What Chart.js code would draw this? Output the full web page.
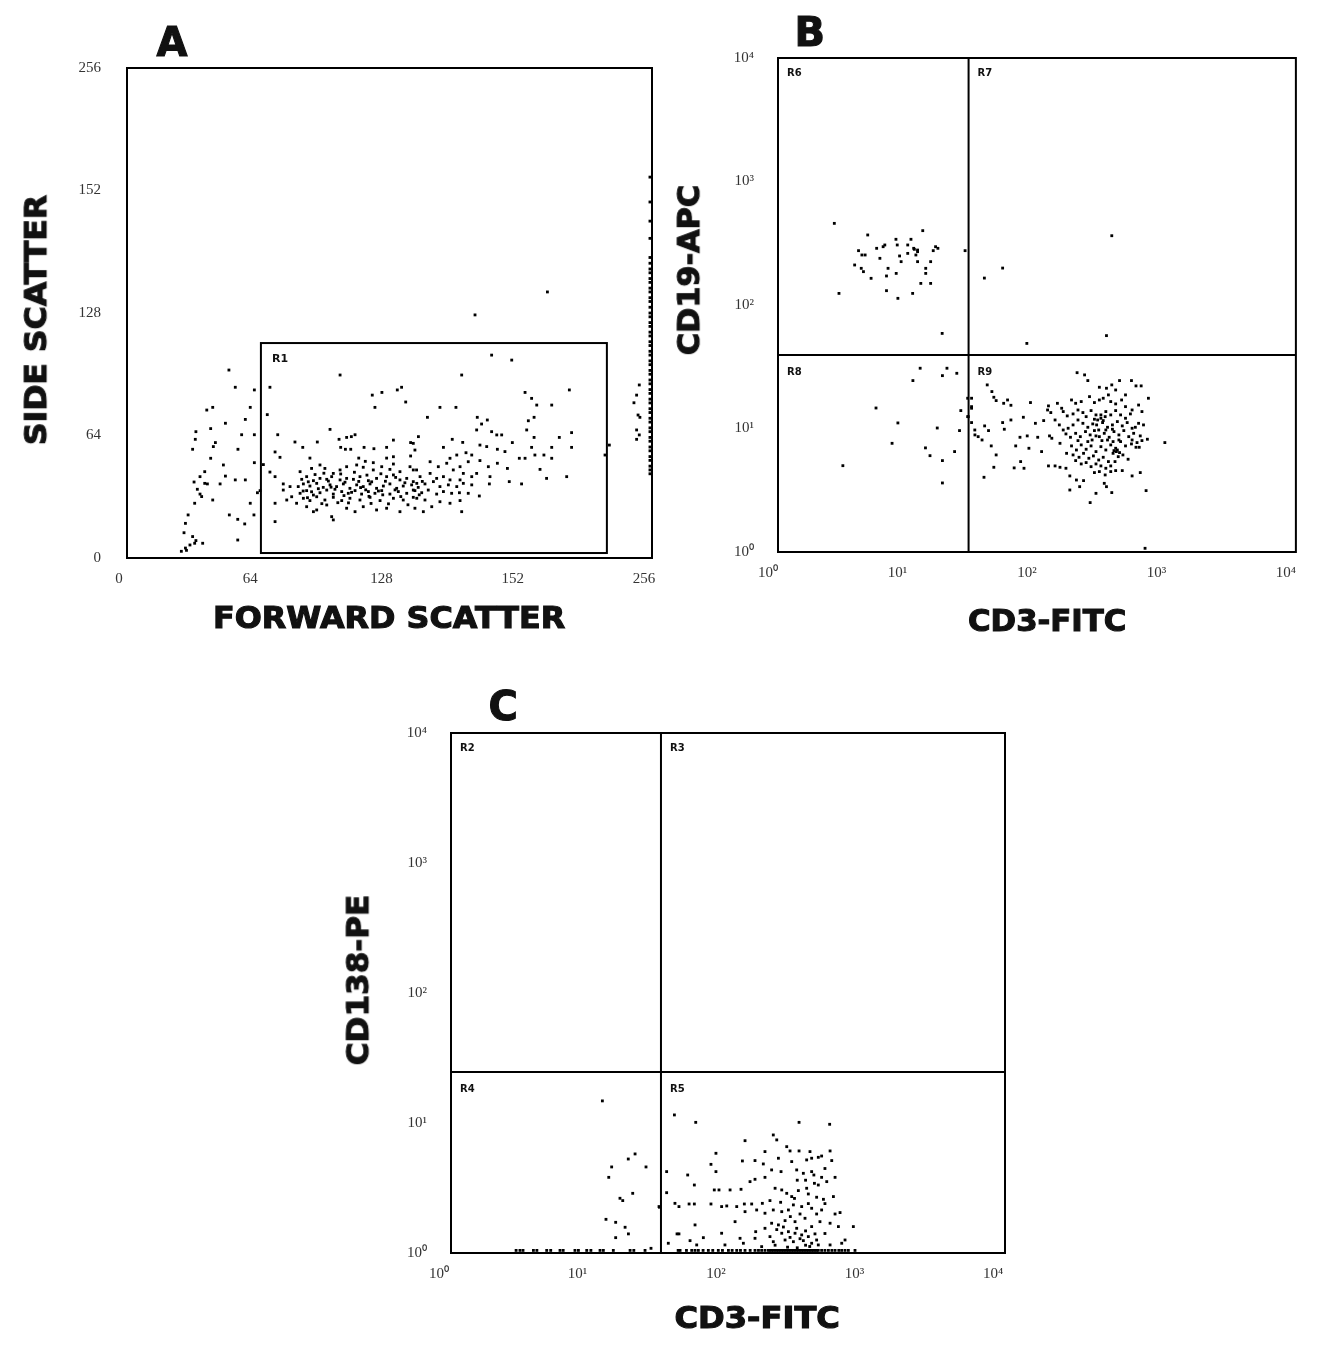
<!DOCTYPE html>
<html><head><meta charset="utf-8">
<script src="https://cdn.jsdelivr.net/npm/chart.js@4.4.1/dist/chart.umd.min.js"></script>
<style>
html,body{margin:0;padding:0;background:#fff;width:1318px;height:1351px;overflow:hidden;position:relative;}
canvas{position:absolute;}
.t{position:absolute;font-family:'DejaVu Sans',sans-serif;font-weight:bold;white-space:nowrap;color:#111;line-height:1;transform-origin:50% 50%;-webkit-text-stroke:1.1px #111;}
</style></head><body>
<canvas id="cA" width="700" height="650" style="left:0;top:0"></canvas>
<canvas id="cB" width="618" height="650" style="left:700px;top:0"></canvas>
<canvas id="cC" width="700" height="680" style="left:330px;top:670px"></canvas>
<script>
// ---------- tick labels ----------
const aTickLabels = ['0','64','128','152','256'];
const logTickLabels = ['10\u2070','10\u00b9','10\u00b2','10\u00b3','10\u2074'];

// ---------- Panel A : forward scatter (x) vs side scatter (y), channel 0-256 ----------
const aOutsideR1 = [[49.7,98.2],[52.8,89.2],[62.1,87.8],[38.9,77.3],[41.8,78.7],[60.1,78.7],[57.7,72.4],[48.0,70.4],[33.6,66.0],[40.8,67.6],[33.3,62.0],[55.9,64.4],[62.1,64.4],[43.1,60.3],[42.1,58.2],[32.0,56.8],[54.1,56.8],[40.8,52.1],[47.0,48.6],[62.1,49.8],[37.9,45.1],[35.6,42.5],[48.0,42.8],[32.7,39.7],[37.9,39.0],[45.4,38.7],[52.8,40.8],[34.3,35.9],[39.2,38.7],[57.7,40.8],[35.6,33.4],[41.8,30.3],[33.0,28.6],[36.4,32.1],[63.6,34.1],[60.1,28.6],[29.8,22.5],[49.9,22.5],[61.9,22.5],[54.0,20.2],[57.4,17.8],[28.5,18.1],[27.8,13.2],[32.0,11.2],[33.6,9.1],[28.5,5.2],[30.7,6.8],[36.9,7.7],[33.0,7.7],[54.0,9.4],[64.9,35.2],[26.5,3.5],[29.0,4.0],[169.7,127],[205,139]];
const aR1Sparse = [[69.7,89.2],[103.9,95.6],[68.4,74.9],[119.6,85.1],[124.3,86.5],[131.8,87.8],[133.9,89.2],[135.9,81.5],[120.9,78.7],[73.5,64.4],[99.0,67.2],[81.9,60.6],[85.7,57.8],[92.8,60.6],[103.4,62.0],[107.1,63.0],[109.4,63.4],[111.2,64.4],[129.9,61.6],[138.3,60.3],[126.6,57.8],[72.2,55.4],[74.6,52.6],[89.2,52.2],[104.2,57.8],[106.5,56.8],[109.1,56.8],[115.6,57.8],[120.4,57.1],[129.9,52.9],[126.6,52.2],[138.3,53.3],[113.0,52.2],[116.2,50.5],[120.1,49.8],[129.9,49.1],[66.5,48.8],[69.7,44.9],[72.2,42.5],
[177.8,106.0],[187.6,103.4],[163.2,95.6],[194.1,86.5],[197.3,83.4],[199.8,79.9],[207.1,79.9],[215.7,87.8],[152.6,78.7],[160.4,78.7],[146.5,73.5],[170.8,73.5],[175.7,72.1],[172.9,70.0],[195.7,71.7],[198.5,73.5],[194.9,66.9],[177.8,66.0],[180.3,64.3],[182.7,64.3],[170.5,66.9],[216.8,65.5],[210.8,63.0],[198.5,63.0],[187.9,60.3],[158.6,62.0],[163.7,60.4],[154.3,57.8],[172.1,59.0],[175.4,58.2],[180.6,56.8],[184.3,55.6],[197.3,57.8],[207.1,57.8],[216.8,57.8],[191.3,52.1],[194.1,52.1],[198.9,53.8],[203.3,53.8],[207.1,52.1],[165.3,55.0],[168.1,53.8],[160.8,53.8],[157.5,52.1],[172.1,50.9],[176.2,47.7],[180.6,49.5],[185.5,46.8],[201.4,46.3],[204.6,41.6],[214.4,42.5],[177.0,42.5],[186.4,39.9],[192.4,38.7],[176.7,38.7],[171.8,32.4],[163.2,24.2],[235.2,59.0],[233.1,53.8]];
const aR1Core = [[84.4,45.1],[90.0,46.8],[94.1,48.6],[96.5,46.8],[100.6,44.2],[103.9,46.0],[107.1,47.7],[112.0,48.6],[115.2,47.4],[120.1,46.0],[124.2,47.7],[128.2,46.3],[133.1,45.1],[138.0,47.7],[141.2,46.0],
[85.2,41.1],[87.6,42.5],[90.9,40.4],[94.1,41.6],[97.4,41.1],[99.8,42.5],[103.9,40.8],[107.1,41.6],[110.4,41.1],[113.6,42.5],[117.7,40.4],[121.7,41.6],[126.6,42.5],[129.9,43.4],[133.1,40.8],[136.4,41.6],[139.6,39.9],
[83.5,37.3],[86.0,38.7],[89.2,37.6],[92.5,39.0],[95.7,36.9],[99.0,38.2],[102.2,37.3],[105.5,38.7],[108.7,36.4],[112.0,38.2],[115.2,37.3],[118.5,38.7],[121.7,36.4],[125.0,37.6],[128.2,38.7],[131.5,36.4],[134.7,37.6],[138.8,38.2],[142.0,36.9],
[84.4,33.8],[87.6,35.2],[90.9,32.9],[94.1,34.1],[97.4,35.5],[100.6,33.4],[104.7,34.7],[107.9,33.8],[111.2,35.2],[114.4,33.4],[117.7,34.7],[120.9,33.8],[124.2,35.2],[128.2,33.4],[132.3,34.7],[136.4,33.8],[140.4,35.2],
[86.0,31.2],[89.2,30.0],[92.5,32.0],[96.5,30.3],[100.6,31.7],[104.7,30.0],[108.7,31.2],[113.6,30.3],[118.5,31.7],[123.4,30.0],[129.9,31.2],[134.7,30.3],[139.6,31.7],
[87.6,26.8],[92.5,25.1],[97.4,27.7],[99.8,21.6],[100.6,19.9],[107.1,26.0],[111.2,24.2],[115.2,26.8],[121.7,25.1],[126.6,26.0],[133.1,24.2],[90.9,24.2],[82.7,28.6],[77.9,30.3],[79.5,37.3],[76.2,35.5],[76.2,38.7],[80.3,32.0],[72.2,28.6],[72.2,19.0],
[88.4,39.8],[93.3,36.2],[98.2,40.2],[101.4,35.9],[106.3,39.6],[109.5,34.3],[113.0,40.0],[116.4,35.6],[119.3,39.8],[122.6,35.0],[126.0,40.1],[130.7,35.6],[135.5,39.3],[85.9,35.0],[91.7,43.6],[96.0,44.3],[104.2,43.9],[110.9,44.8],[117.0,43.3],[123.8,44.0],[131.0,42.1],[102.8,28.9],[95.0,28.4],[108.0,28.8],[119.0,28.5],[127.5,28.3],[137.0,27.8],[90.0,34.6],[99.5,37.0],[113.9,36.8],[124.7,33.0],[133.5,32.1],[88.0,31.5],[105.8,32.6],[118.0,32.2],[142.5,33.0],[144.0,40.0],
[139.6,59.9],[142.1,63.4],[140.4,56.4],[147.8,50.3],[151.8,47.7],[155.9,49.5],[162.4,47.7],[166.4,50.3],[159.1,46.0],[164.0,44.2],[170.5,44.2],[168.1,42.5],[139.6,46.0],[142.9,42.5],[147.8,44.2],[151.0,41.6],[154.3,42.5],[157.5,40.8],[162.4,40.8],[141.3,39.0],[145.3,38.7],[149.4,39.9],[152.6,37.3],[156.7,38.2],[160.8,37.3],[164.0,39.0],[168.1,38.2],[139.6,35.5],[143.7,34.1],[146.9,35.5],[151.0,33.4],[154.3,34.7],[158.3,33.8],[162.1,34.1],[166.4,33.8],[141.3,31.2],[145.3,30.3],[148.6,26.8],[152.6,29.4],[157.5,28.6],[162.4,30.0],[144.5,24.2],[140.4,26.0]];
const aRightCluster = [[249.8,90.4],[248.5,85.1],[247.2,81.1],[249.2,74.7],[250.1,73.5],[248.5,66.9],[249.8,64.3],[248.5,62.0]];
const aEdgeX = 255;
const aEdgeY = [199,186,176,167,157,154,151,149,146,144,141,139,136,134,131,128,126,123,121,118,116,113,111,108,106,103,101,98,96,93,91,88,86,83,81,78,76,73,71,68,66,63,61,58,56,53,51,48,46,44];
const aGateR1 = {x0:65.3, x1:234.0, y0:2.6, y1:112.3};

// ---------- Panel B : CD3-FITC (x) vs CD19-APC (y), log decades ----------
const bR6 = [[0.435,2.661],[0.693,2.567],[1.118,2.602],[0.911,2.532],[1.027,2.532],[0.825,2.486],[0.921,2.486],[1.002,2.486],[0.622,2.440],[0.762,2.459],[0.673,2.405],[0.648,2.405],[0.812,2.472],[1.053,2.451],[1.078,2.432],[1.217,2.472],[1.235,2.459],[1.199,2.440],[1.445,2.440],[0.939,2.397],[1.002,2.418],[1.065,2.405],[0.787,2.378],[0.951,2.351],[1.078,2.351],[1.179,2.351],[0.592,2.324],[0.643,2.297],[0.660,2.270],[0.850,2.297],[1.141,2.297],[0.913,2.256],[0.838,2.235],[0.719,2.216],[1.141,2.256],[1.103,2.175],[1.179,2.175],[0.838,2.116],[1.040,2.094],[0.926,2.054],[0.471,2.094],[1.268,1.770],[1.078,2.445],[1.048,2.459]];
const bR7 = [[1.735,2.299],[1.594,2.218],[2.578,2.561],[2.537,1.752],[1.922,1.689]];
const bR8 = [[1.098,1.488],[1.305,1.488],[1.270,1.428],[1.381,1.447],[1.042,1.388],[0.757,1.166],[0.926,1.045],[1.412,1.145],[1.230,1.004],[1.402,0.983],[0.881,0.880],[1.139,0.843],[1.174,0.780],[1.270,0.740],[1.364,0.813],[0.501,0.699],[1.270,0.559],[1.465,1.096],[1.495,1.245],[1.495,1.164],[1.495,1.048],[1.521,0.948]];
const bR9 = [[2.310,1.452],[2.368,1.434],[2.393,1.388],[2.482,1.334],[2.578,1.353],[2.638,1.388],[2.730,1.388],[2.765,1.345],[2.805,1.345],[2.537,1.326],[2.608,1.312],[2.684,1.272],[2.861,1.245],[1.616,1.353],[1.652,1.299],[1.667,1.253],[1.685,1.226],[1.743,1.204],[1.773,1.231],[1.799,1.188],[1.950,1.210],[2.089,1.183],[2.158,1.204],[2.191,1.164],[2.267,1.231],[2.299,1.204],[2.342,1.218],[2.406,1.258],[2.444,1.210],[2.482,1.231],[2.512,1.245],[2.552,1.272],[2.570,1.218],[2.608,1.199],[2.654,1.231],[2.684,1.177],[2.735,1.150],[2.785,1.190],[2.811,1.137],
[1.465,1.245],[1.495,1.177],[1.470,1.096],[1.520,0.988],[1.596,1.021],[1.626,0.983],[1.735,1.048],[1.748,0.994],[1.799,1.069],[1.895,1.091],[1.988,1.042],[2.052,1.064],[2.082,1.150],[2.107,1.129],[2.140,1.069],[2.173,1.029],[2.203,0.988],[1.546,0.934],[1.576,0.907],[1.647,0.859],[1.685,0.786],[1.836,0.859],[1.869,0.929],[1.925,0.940],[1.938,0.840],[2.006,0.929],[2.036,0.813],[2.097,0.940],[2.115,0.921],[2.178,0.880],[1.667,0.686],[1.591,0.605],[1.824,0.681],[1.874,0.732],[1.900,0.678],[2.089,0.697],[2.140,0.697],[2.178,0.686],[2.224,0.678],[2.254,0.616],[2.305,0.583],[2.330,0.529],[2.360,0.578],[2.411,0.400],[2.254,0.502],[2.456,0.475],[2.520,0.556],[2.537,0.529],[2.578,0.481],[2.735,0.616],[2.798,0.643],[2.843,0.497],[2.988,0.886],[2.798,0.940],[2.853,0.913],[2.765,0.848],[2.790,0.848],[2.735,0.907],[2.608,0.659],[2.659,0.659],[2.570,0.651],
[2.203,1.137],[2.234,1.102],[2.279,1.118],[2.317,1.150],[2.355,1.129],[2.380,1.096],[2.418,1.145],[2.456,1.110],[2.494,1.083],[2.532,1.137],[2.570,1.110],[2.608,1.145],[2.646,1.110],[2.684,1.083],[2.722,1.118],[2.697,1.048],[2.659,1.021],[2.621,1.056],[2.583,1.029],[2.545,1.010],[2.507,1.048],[2.469,1.069],[2.431,1.037],[2.393,1.010],[2.355,1.042],[2.317,1.069],[2.279,1.029],[2.241,1.002],[2.224,0.956],[2.259,0.929],[2.299,0.961],[2.335,0.934],[2.375,0.975],[2.411,0.948],[2.444,0.983],[2.482,0.934],[2.520,0.961],[2.558,0.929],[2.595,0.975],[2.633,0.948],[2.671,0.983],[2.709,0.934],[2.747,0.961],[2.735,1.002],[2.785,1.042],[2.760,1.010],[2.823,1.029],[2.811,0.902],[2.773,0.886],[2.730,0.875],[2.684,0.859],[2.646,0.894],[2.608,0.840],[2.570,0.867],[2.532,0.826],[2.494,0.853],[2.456,0.813],[2.418,0.859],[2.380,0.832],[2.342,0.867],[2.305,0.826],[2.267,0.859],[2.229,0.799],[2.279,0.786],[2.325,0.767],[2.360,0.799],[2.401,0.759],[2.436,0.778],[2.477,0.745],[2.512,0.767],[2.552,0.732],[2.588,0.799],[2.613,0.813],[2.628,0.772],[2.664,0.786],[2.704,0.751],[2.603,0.732],[2.570,0.697],[2.532,0.678],[2.494,0.697],[2.456,0.713],[2.418,0.691],[2.380,0.724],[2.342,0.713],[2.299,0.740],[2.482,0.651],[2.444,0.643],[2.527,0.624],[2.444,1.075],[2.512,1.064],[2.477,0.988],[2.426,0.907],[2.545,0.907],[2.588,0.894],[2.633,0.907],[2.595,0.821],[2.621,0.826],[2.638,0.805],[2.502,0.902],[2.456,0.940],[2.393,0.894],[2.317,0.902],[2.532,0.988],[2.583,0.994],[2.461,1.029],[2.494,1.110],[2.527,1.096],[2.835,0.030]];
const bQuad = {x:1.472, y:1.595};

// ---------- Panel C : CD3-FITC (x) vs CD138-PE (y), log decades ----------
const cR4 = [[1.093,1.170],[1.329,0.762],[1.280,0.723],[1.160,0.662],[1.408,0.662],[1.139,0.582],[1.312,0.459],[1.220,0.421],[1.240,0.403],[1.119,0.259],[1.189,0.236],[1.257,0.198],[1.281,0.147],[1.189,0.118],[1.444,0.036],[1.505,0.352]];
const cR4Baseline = [0.470,0.498,0.520,0.595,0.620,0.691,0.720,0.787,0.810,0.895,0.920,0.980,1.010,1.076,1.100,1.172,1.293,1.320,1.401];
const cR5 = [[1.613,1.062],[1.767,1.005],[2.513,1.005],[2.734,0.990],[2.327,0.908],[2.352,0.870],[2.123,0.864],[1.913,0.767],[2.267,0.780],[2.424,0.818],[2.448,0.785],[2.513,0.785],[2.592,0.780],[2.737,0.785],[1.877,0.682],[1.913,0.626],[2.104,0.708],[2.195,0.711],[2.255,0.685],[2.364,0.729],[2.460,0.703],[2.568,0.716],[2.604,0.729],[2.652,0.736],[2.676,0.746],[2.749,0.711],[1.557,0.626],[1.709,0.600],[1.757,0.523],[1.901,0.485],[1.935,0.485],[2.015,0.485],[2.094,0.490],[2.159,0.549],[2.195,0.567],[2.267,0.582],[2.315,0.639],[2.383,0.626],[2.496,0.639],[2.544,0.613],[2.604,0.626],[2.676,0.582],[2.773,0.582],[2.713,0.549],[2.624,0.536],[2.652,0.523],[2.568,0.498],[1.557,0.464],[1.617,0.382],[1.719,0.377],[1.757,0.377],[1.877,0.377],[1.954,0.357],[1.991,0.362],[2.063,0.357],[2.118,0.377],[2.171,0.377],[2.248,0.382],[2.303,0.403],[2.340,0.498],[2.388,0.485],[2.424,0.459],[2.460,0.434],[2.508,0.480],[2.580,0.454],[2.640,0.429],[2.689,0.413],[2.761,0.434],[1.646,0.357],[2.773,0.300],[2.809,0.311],[2.676,0.331],[2.604,0.344],[2.532,0.357],[2.472,0.370],[2.436,0.331],[2.388,0.318],[2.327,0.331],[2.267,0.306],[2.207,0.331],[2.123,0.318],[2.051,0.241],[1.762,0.216],[1.646,0.147],[1.632,0.147],[1.726,0.095],[1.822,0.118],[1.954,0.152],[2.087,0.113],[2.200,0.164],[2.195,0.113],[2.267,0.190],[2.315,0.229],[2.364,0.216],[2.412,0.249],[2.484,0.241],[2.556,0.267],[2.604,0.203],[2.664,0.241],[2.737,0.229],[2.797,0.203],[2.845,0.100],[2.905,0.203],[2.303,0.126],[2.388,0.152],[2.436,0.164],[2.484,0.152],[2.532,0.139],[2.580,0.126],[2.628,0.147],[2.412,0.100],[2.472,0.087],[2.544,0.095],[2.604,0.075],[2.327,0.087],[1.569,0.075],[1.774,0.062],[1.978,0.062],[2.111,0.075],[2.243,0.049],[2.652,0.062],[2.737,0.062],[2.821,0.075],[1.502,0.357],
[2.352,0.180],[2.400,0.200],[2.448,0.120],[2.496,0.190],[2.520,0.110],[2.560,0.170],[2.590,0.050],[2.340,0.060],[2.430,0.045],[2.500,0.040],[2.560,0.060],[2.640,0.100],[2.700,0.150],[2.450,0.280],[2.520,0.300],[2.580,0.380],[2.640,0.300],[2.700,0.380],[2.380,0.390],[2.480,0.420],[2.560,0.560],[2.620,0.600],[2.700,0.650],[2.500,0.560]];
const cR5Baseline = [1.640,1.654,1.700,1.738,1.762,1.786,1.820,1.858,1.890,1.930,1.960,2.003,2.030,2.063,2.090,2.123,2.160,2.195,2.220,2.243,2.267,2.291,2.303,2.315,2.327,2.340,2.352,2.364,2.376,2.388,2.400,2.412,2.424,2.436,2.448,2.460,2.472,2.484,2.496,2.508,2.520,2.532,2.544,2.556,2.568,2.580,2.592,2.604,2.616,2.628,2.640,2.652,2.676,2.700,2.725,2.750,2.773,2.800,2.821,2.845,2.869,2.917];
const cBaselineY = 0.02;
const cQuad = {x:1.516, y:1.392};

// ---------- helpers ----------
const pts = arr => arr.map(p => ({x:p[0], y:p[1]}));
function ds(data){
  return {data, pointStyle:'rect', pointRadius:2.0, pointHoverRadius:2.0, backgroundColor:'#000', borderWidth:0, clip:false};
}
function overlay(opt){
  return {id:'ov', afterDatasetsDraw(chart){
    const c = chart.ctx, a = chart.chartArea, xs = chart.scales.x, ys = chart.scales.y;
    c.save();
    c.strokeStyle = '#000'; c.lineWidth = 2;
    c.strokeRect(a.left, a.top, a.right-a.left, a.bottom-a.top);
    if (opt.gate){
      const g = opt.gate;
      const x0 = xs.getPixelForValue(g.x0), x1 = xs.getPixelForValue(g.x1);
      const y0 = ys.getPixelForValue(g.y0), y1 = ys.getPixelForValue(g.y1);
      c.strokeRect(x0, y1, x1-x0, y0-y1);
      c.fillStyle='#111'; c.font='bold 11px "DejaVu Sans"';
      c.fillText('R1', x0+11, y1+19);
    }
    if (opt.quad){
      const qx = xs.getPixelForValue(opt.quad.x), qy = ys.getPixelForValue(opt.quad.y);
      c.beginPath(); c.moveTo(qx, a.top); c.lineTo(qx, a.bottom);
      c.moveTo(a.left, qy); c.lineTo(a.right, qy); c.stroke();
      c.fillStyle='#111'; c.font='bold 10px "DejaVu Sans"';
      const L = opt.labels;
      c.fillText(L[0], a.left+9, a.top+18);
      c.fillText(L[1], qx+9, a.top+18);
      c.fillText(L[2], a.left+9, qy+20);
      c.fillText(L[3], qx+9, qy+20);
    }
    c.restore();
  }};
}
function axis(min, max, step, labels, yAxis, fix, pad, lofs){
  return {type:'linear', min, max,
    grid:{display:false, drawTicks:false}, border:{display:false},
    ticks:{stepSize:step, color:'#333', font:{family:'Liberation Serif', size:15},
      padding:pad, labelOffset:lofs, autoSkip:false, maxRotation:0,
      callback:(v)=>{const i=Math.round((v-min)/step); return labels[i]!==undefined ? labels[i] : '';}},
    afterFit:(s)=>{ if (yAxis) s.width = fix; else s.height = fix; }
  };
}
function chart(id, datasets, scales, padding, ov){
  return new Chart(document.getElementById(id), {
    type:'scatter', data:{datasets},
    options:{responsive:false, animation:false, events:[],
      layout:{padding},
      plugins:{legend:{display:false}, tooltip:{enabled:false}},
      scales},
    plugins:[ov]
  });
}

// Panel A
chart('cA', [ds(pts(aOutsideR1)), ds(pts(aR1Sparse)), ds(pts(aR1Core)), ds(pts(aRightCluster)), ds(aEdgeY.map(y=>({x:aEdgeX, y})))],
  {x:axis(0,256,64,aTickLabels,false,92,12,-8), y:axis(0,256,64,aTickLabels,true,127,26,0)},
  {top:68, right:48, left:0, bottom:0}, overlay({gate:aGateR1}));

// Panel B
chart('cB', [ds(pts(bR6)), ds(pts(bR7)), ds(pts(bR8)), ds(pts(bR9))],
  {x:axis(0,4,1,logTickLabels,false,98,12,-10), y:axis(0,4,1,logTickLabels,true,78,24,0)},
  {top:58, right:13, left:0, bottom:0}, overlay({quad:bQuad, labels:['R6','R7','R8','R9']}));

// Panel C
chart('cC', [ds(pts(cR4)), ds(cR4Baseline.map(x=>({x, y:cBaselineY}))), ds(pts(cR5)), ds(cR5Baseline.map(x=>({x, y:cBaselineY})))],
  {x:axis(0,4,1,logTickLabels,false,97,12,-12), y:axis(0,4,1,logTickLabels,true,121,24,0)},
  {top:63, right:25, left:0, bottom:0}, overlay({quad:cQuad, labels:['R2','R3','R4','R5']}));

// ---------- titles (real text) ----------
function title(text, cx, cy, len, size, vertical){
  const d = document.createElement('div'); d.className='t'; d.textContent=text; d.style.fontSize=size+'px';
  document.body.appendChild(d);
  const w = d.offsetWidth, h = d.offsetHeight;
  const s = len ? len / w : 1;
  d.style.left = (cx - w/2) + 'px'; d.style.top = (cy - h/2) + 'px';
  d.style.transform = (vertical ? 'rotate(-90deg) ' : '') + 'scaleX(' + s + ')';
}
title('A', 172, 42, 0, 40, false);
title('B', 810, 32, 0, 40, false);
title('C', 503, 706, 0, 40, false);
title('FORWARD SCATTER', 389, 618, 352, 30, false);
title('SIDE SCATTER', 36, 320, 250, 30, true);
title('CD19-APC', 689, 270, 170, 30, true);
title('CD3-FITC', 1047, 621, 158, 30, false);
title('CD138-PE', 358, 980, 170, 30, true);
title('CD3-FITC', 757, 1318, 165, 30, false);
</script>
</body></html>
